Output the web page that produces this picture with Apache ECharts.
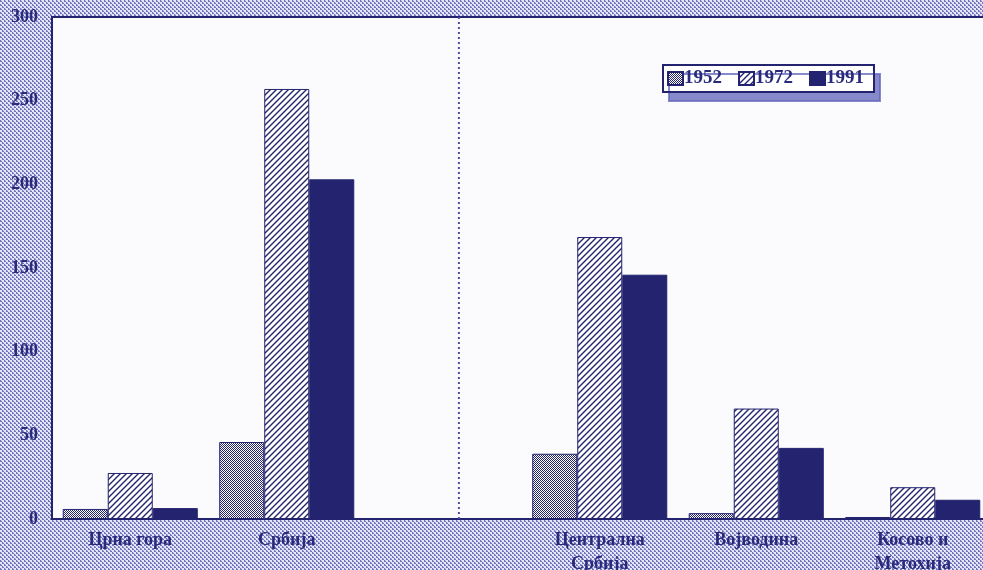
<!DOCTYPE html>
<html>
<head>
<meta charset="utf-8">
<script src="https://cdn.jsdelivr.net/npm/echarts@6/dist/echarts.min.js"></script>
<style>
  html, body { margin: 0; padding: 0; }
  #chart { width: 983px; height: 570px; }
</style>
</head>
<body>
<div id="chart"></div>
<script>
// regions (empty slot = gap between Serbia and its provinces)
var categories = ['Црна гора', 'Србија', '', 'Централна\nСрбија', 'Војводина', 'Косово и\nМетохија'];
var years = ['1952', '1972', '1991'];
var values1952 = [6, 46, null, 39, 3.5, 1.2];
var values1972 = [27.5, 257, null, 168.5, 66, 19];
var values1991 = [6.5, 203, null, 146, 42.5, 11.5];
var yTicks = [0, 50, 100, 150, 200, 250, 300];
var separatorPos = 2.6; // position of the dotted divider, in category slots

var navy = '#23236f';
var textNavy = '#2a2a7c';

function makePattern(w, h, draw) {
  var c = document.createElement('canvas');
  c.width = w; c.height = h;
  var ctx = c.getContext('2d');
  draw(ctx);
  return { image: c, repeat: 'repeat' };
}

// halftone dots for the page background
var bgPattern = makePattern(4, 4, function (ctx) {
  ctx.fillStyle = '#e6e7f4';
  ctx.fillRect(0, 0, 4, 4);
  ctx.fillStyle = '#7175bd';
  ctx.fillRect(0, 0, 2, 2);
  ctx.fillRect(2, 2, 2, 2);
  ctx.fillStyle = '#c4c6e6';
  ctx.fillRect(1, 0, 1, 1);
  ctx.fillRect(3, 2, 1, 1);
});

// fine check for 1952
var checkPattern = makePattern(2, 2, function (ctx) {
  ctx.fillStyle = '#ffffff';
  ctx.fillRect(0, 0, 2, 2);
  ctx.fillStyle = navy;
  ctx.fillRect(0, 0, 1, 1);
  ctx.fillRect(1, 1, 1, 1);
});

// diagonal hatch for 1972
var hatchPattern = makePattern(6, 6, function (ctx) {
  ctx.fillStyle = '#ffffff';
  ctx.fillRect(0, 0, 6, 6);
  ctx.strokeStyle = navy;
  ctx.lineWidth = 1.4;
  ctx.beginPath();
  ctx.moveTo(-1, 7); ctx.lineTo(7, -1);
  ctx.moveTo(-4, 4); ctx.lineTo(4, -4);
  ctx.moveTo(2, 10); ctx.lineTo(10, 2);
  ctx.stroke();
});

var chartDom = document.getElementById('chart');
var myChart = echarts.init(chartDom);
var option;

function barSeries(name, data, color) {
  return {
    name: name,
    type: 'bar',
    data: data,
    barGap: '0%',
    barCategoryGap: '13.7%',
    itemStyle: { color: color, borderColor: navy, borderWidth: 1 },
    emphasis: { disabled: true }
  };
}

option = {
  animation: false,
  backgroundColor: bgPattern,
  textStyle: { fontFamily: 'Liberation Serif' },
  legend: {
    data: years,
    left: 663,
    top: 65,
    itemWidth: 15,
    itemHeight: 13,
    itemGap: 16,
    padding: [4, 10, 4, 4],
    backgroundColor: '#ffffff',
    borderColor: navy,
    borderWidth: 2,
    borderRadius: 0,
    shadowColor: 'rgba(95,100,185,0.75)',
    shadowBlur: 0,
    shadowOffsetX: 6,
    shadowOffsetY: 9,
    icon: 'rect',
    textStyle: {
      color: textNavy,
      fontFamily: 'Liberation Serif',
      fontSize: 19,
      fontWeight: 'bold',
      padding: [0, 0, 0, -4]
    }
  },
  grid: {
    left: 52,
    top: 17,
    width: 939,
    bottom: 51,
    outerBoundsMode: 'none',
    show: true,
    backgroundColor: '#fbfbfd',
    borderColor: navy,
    borderWidth: 2
  },
  xAxis: [{
    type: 'category',
    data: categories,
    axisLine: { lineStyle: { color: navy, width: 2 } },
    axisTick: { show: false },
    axisLabel: {
      color: textNavy,
      fontFamily: 'Liberation Serif',
      fontSize: 18,
      fontWeight: 'bold',
      margin: 9,
      lineHeight: 24,
      interval: 0
    }
  }, {
    type: 'value',
    min: 0,
    max: categories.length,
    show: false
  }],
  yAxis: {
    type: 'value',
    min: 0,
    max: 300,
    interval: 50,
    axisLine: { show: true, lineStyle: { color: navy, width: 2 } },
    axisTick: { show: false },
    splitLine: { show: false },
    axisLabel: {
      color: textNavy,
      fontFamily: 'Liberation Serif',
      fontSize: 18,
      fontWeight: 'bold',
      margin: 14,
      formatter: function (v) { return yTicks.indexOf(v) >= 0 ? String(v) : ''; }
    }
  },
  series: [
    barSeries('1952', values1952, checkPattern),
    barSeries('1972', values1972, hatchPattern),
    barSeries('1991', values1991, navy),
    {
      type: 'line',
      xAxisIndex: 1,
      data: [[separatorPos, 0], [separatorPos, 300]],
      symbol: 'none',
      lineStyle: { color: '#4a4ea8', width: 2, type: [2, 3] },
      silent: true
    }
  ]
};

option && myChart.setOption(option);
</script>
</body>
</html>
